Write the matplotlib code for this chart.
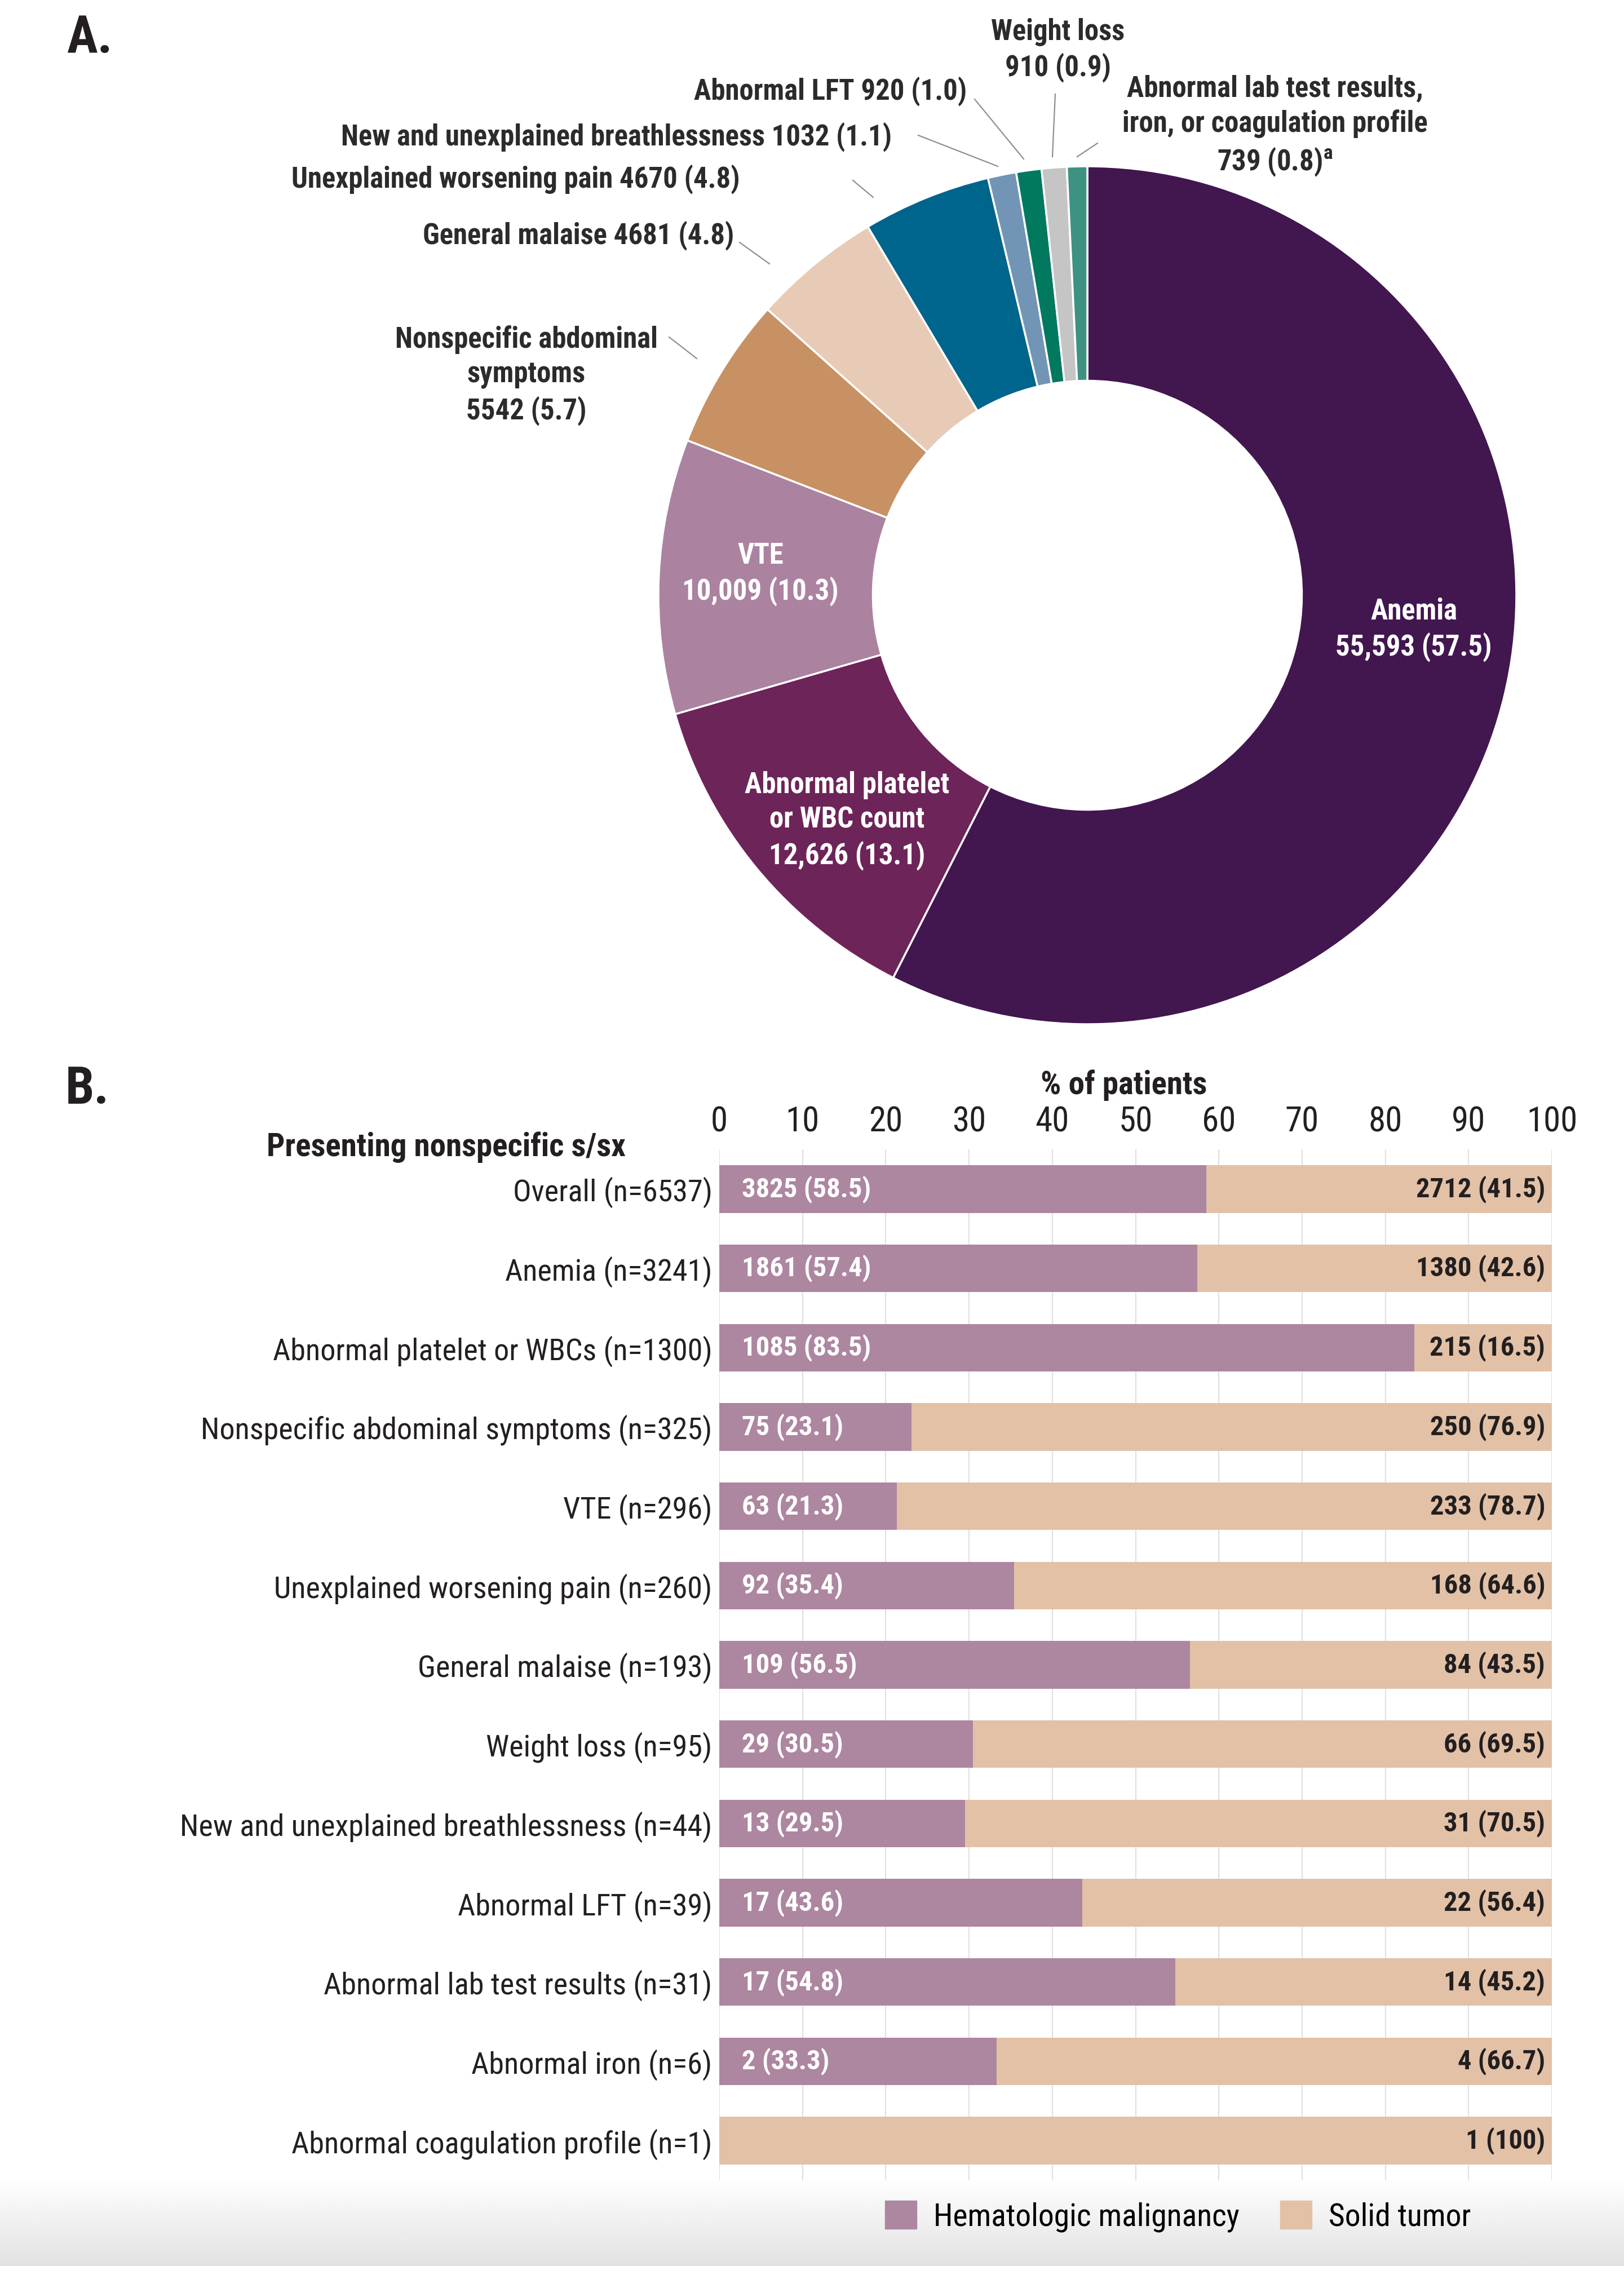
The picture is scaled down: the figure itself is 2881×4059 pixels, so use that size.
import numpy as np
import matplotlib
matplotlib.use("Agg")
import matplotlib.pyplot as plt
from matplotlib import font_manager
from matplotlib.patches import Patch

# ---- Panel A data (donut) ----
pie_names = ["Anemia", "Abnormal platelet or WBC count", "VTE",
             "Nonspecific abdominal symptoms", "General malaise",
             "Unexplained worsening pain", "New and unexplained breathlessness",
             "Abnormal LFT", "Weight loss",
             "Abnormal lab test results, iron, or coagulation profile"]
pie_counts = [55593, 12626, 10009, 5542, 4681, 4670, 1032, 920, 910, 739]
pie_pcts = [57.5, 13.1, 10.3, 5.7, 4.8, 4.8, 1.1, 1.0, 0.9, 0.8]
pie_colors = ["#42164f", "#6d2459", "#ab82a0", "#c79164", "#e8cbb6",
              "#00658d", "#7395b5", "#00795f", "#c5c5c5", "#3e9281"]

# ---- Panel B data (stacked bars) ----
bar_cats = ["Overall (n=6537)", "Anemia (n=3241)", "Abnormal platelet or WBCs (n=1300)",
            "Nonspecific abdominal symptoms (n=325)", "VTE (n=296)",
            "Unexplained worsening pain (n=260)", "General malaise (n=193)",
            "Weight loss (n=95)", "New and unexplained breathlessness (n=44)",
            "Abnormal LFT (n=39)", "Abnormal lab test results (n=31)",
            "Abnormal iron (n=6)", "Abnormal coagulation profile (n=1)"]
heme_n = [3825, 1861, 1085, 75, 63, 92, 109, 29, 13, 17, 17, 2, 0]
heme_pct = [58.5, 57.4, 83.5, 23.1, 21.3, 35.4, 56.5, 30.5, 29.5, 43.6, 54.8, 33.3, 0]
solid_n = [2712, 1380, 215, 250, 233, 168, 84, 66, 31, 22, 14, 4, 1]
solid_pct = [41.5, 42.6, 16.5, 76.9, 78.7, 64.6, 43.5, 69.5, 70.5, 56.4, 45.2, 66.7, 100]
heme_color = "#ad86a0"
solid_color = "#e2c1a7"
x_ticks = list(range(0, 101, 10))

# ---- font: condensed if we have one ----
names = {f.name for f in font_manager.fontManager.ttflist}
k = 0.82
FONT = "Liberation Sans"
for cand in ["Liberation Sans Narrow", "Arial Narrow", "Roboto Condensed"]:
    if cand in names:
        FONT, k = cand, 1.0
        break
plt.rcParams["font.family"] = [FONT, "DejaVu Sans"]
plt.rcParams["mathtext.fontset"] = "custom"
plt.rcParams["mathtext.rm"] = FONT

W, H = 2881, 4059
fig = plt.figure(figsize=(W / 100, H / 100), dpi=100)
TXT = "#231f20"


def fpx(x, y):
    return x / W, 1 - y / H


# ---- Panel A ----
cx, cy, R = 1929, 1056, 761
top_h = 1850
axp = fig.add_axes([0, 1 - top_h / H, 1, top_h / H])
wedges, _ = axp.pie(pie_counts, colors=pie_colors, startangle=90, counterclock=False,
                    radius=1, wedgeprops=dict(width=0.5, edgecolor="white", linewidth=2.5))
axp.set_aspect("auto")
axp.set_xlim(-cx / R, (W - cx) / R)
axp.set_ylim(-(top_h - cy) / R, cy / R)
axp.axis("off")

fig.text(*fpx(118, 68), "A.", fontsize=66 * k, fontweight="bold", va="center", color=TXT)

# outside labels (text, x, y, ha)
outside = [
    ("Weight loss\n910 (0.9)", 1877, 89, "center"),
    ("Abnormal LFT 920 (1.0)", 1715, 162, "right"),
    ("Abnormal lab test results,\niron, or coagulation profile\n739 (0.8)$^{\\mathregular{a}}$", 2262, 224, "center"),
    ("New and unexplained breathlessness 1032 (1.1)", 1582, 243, "right"),
    ("Unexplained worsening pain 4670 (4.8)", 1313, 318, "right"),
    ("General malaise 4681 (4.8)", 1302, 418, "right"),
    ("Nonspecific abdominal\nsymptoms\n5542 (5.7)", 934, 666, "center"),
]
for txt, x, y, ha in outside:
    fig.text(*fpx(x, y), txt, fontsize=36.5 * k, fontweight="bold", ha=ha, va="center",
             color="#2b2b2b", linespacing=1.3)

# leader lines: (label end, slice end) in figure pixels
leaders = [((1187, 598), (1236, 636)), ((1312, 430), (1365, 468)),
           ((1513, 320), (1549, 350)), ((1629, 240), (1770, 295)),
           ((1729, 176), (1816, 282)), ((1872, 167), (1867, 278)),
           ((1947, 254), (1911, 278))]
for (x0, y0), (x1, y1) in leaders:
    fig.add_artist(plt.Line2D([x0 / W, x1 / W], [1 - y0 / H, 1 - y1 / H],
                              transform=fig.transFigure, color="#8f8f8f", lw=1.6))

inside = [("Anemia\n55,593 (57.5)", 2508, 1117),
          ("VTE\n10,009 (10.3)", 1349, 1018),
          ("Abnormal platelet\nor WBC count\n12,626 (13.1)", 1503, 1456)]
for txt, x, y in inside:
    fig.text(*fpx(x, y), txt, fontsize=36.5 * k, fontweight="bold", ha="center",
             va="center", color="white", linespacing=1.3)

# ---- Panel B ----
left, right, top, bottom = 1276, 2753, 2039, 3868
axb = fig.add_axes([left / W, 1 - bottom / H, (right - left) / W, (bottom - top) / H])
yy = np.arange(len(bar_cats))
axb.barh(yy, heme_pct, height=0.6, color=heme_color, zorder=2)
axb.barh(yy, solid_pct, left=heme_pct, height=0.6, color=solid_color, zorder=2)
axb.set_xlim(0, 100)
axb.set_ylim(len(bar_cats) - 0.5, -0.5)
axb.xaxis.tick_top()
axb.set_xticks(x_ticks)
axb.set_yticks(yy)
axb.set_yticklabels(bar_cats)
axb.tick_params(axis="x", length=0, pad=14, labelsize=44 * k, labelcolor=TXT)
axb.tick_params(axis="y", length=0, pad=9, labelsize=39 * k, labelcolor=TXT)
axb.grid(axis="x", color="#e0e0e0", lw=1.5, zorder=0)
for s in axb.spines.values():
    s.set_visible(False)

for i in range(len(bar_cats)):
    if heme_n[i] > 0:
        axb.text(2.7, i, f"{heme_n[i]} ({heme_pct[i]})", color="white", fontweight="bold",
                 fontsize=35 * k, ha="left", va="center", zorder=3)
    s_pct = f"{solid_pct[i]:g}" if solid_pct[i] == 100 else f"{solid_pct[i]}"
    axb.text(99.2, i, f"{solid_n[i]} ({s_pct})", color=TXT, fontweight="bold",
             fontsize=35 * k, ha="right", va="center", zorder=3)

fig.text(*fpx(116, 1933), "B.", fontsize=66 * k, fontweight="bold", va="center", color=TXT)
fig.text(*fpx(1994, 1925), "% of patients", fontsize=41 * k, fontweight="bold",
         ha="center", va="center", color=TXT)
fig.text(*fpx(1110, 2035), "Presenting nonspecific s/sx", fontsize=41 * k,
         fontweight="bold", ha="right", va="center", color=TXT)

handles = [Patch(color=heme_color), Patch(color=solid_color)]
fig.legend(handles, ["Hematologic malignancy", "Solid tumor"], loc="center",
           bbox_to_anchor=fpx(2090, 3932), ncol=2, frameon=False, fontsize=40 * k,
           handlelength=1.0, handleheight=1.0, handletextpad=0.55, columnspacing=1.3)

# soft grey band at the bottom
axg = fig.add_axes([0, 1 - 4020 / H, 1, (4020 - 3860) / H], zorder=-1)
grad = np.linspace(1.0, 0.885, 100).reshape(-1, 1)
axg.imshow(np.repeat(grad, 2, axis=1), cmap="gray", vmin=0, vmax=1, aspect="auto",
           interpolation="bilinear")
axg.axis("off")

fig.savefig("out.png", dpi=100)
